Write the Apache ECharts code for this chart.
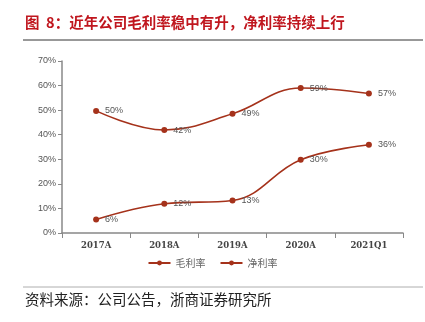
<!DOCTYPE html>
<html><head><meta charset="utf-8">
<script src="https://cdn.jsdelivr.net/npm/echarts@6/dist/echarts.min.js"></script>
<style>html,body{margin:0;padding:0;background:#fff}#c{width:425px;height:322px}</style>
</head><body><div id="c"></div>
<script>
const categories = ['2017A','2018A','2019A','2020A','2021Q1'];
const grossMargin = [49.7, 41.9, 48.5, 59.0, 56.8];
const netMargin = [5.5, 11.9, 13.2, 29.8, 35.9];
const seriesNames = ['毛利率','净利率'];
const titleText = '图  8：近年公司毛利率稳中有升，净利率持续上行';
const sourceText = '资料来源：公司公告，浙商证券研究所';

const chart = echarts.init(document.getElementById('c'));
const lineColor = '#A5321B';
function mkSeries(name, data){
  return {
    name, type:'line', data, smooth:0.4, symbol:'circle', symbolSize:6,
    itemStyle:{color:lineColor}, lineStyle:{color:lineColor,width:1.6},
    label:{show:true, position:'right', distance:6, color:'#555', fontSize:9,
      fontFamily:'Liberation Sans', formatter:p=>Math.round(p.value)+'%'}
  };
}
chart.setOption({
  animation:false,
  graphic:[
    {type:'text', left:25, top:15, style:{text:titleText, fill:'#C0161E', font:'bold 14.5px "Noto Sans CJK SC"'}},
    {type:'line', shape:{x1:23,y1:40,x2:423,y2:40}, style:{stroke:'#333',lineWidth:1}},
    {type:'line', shape:{x1:23,y1:287,x2:423,y2:287}, style:{stroke:'#999',lineWidth:0.8}},
    {type:'text', left:25, top:292, style:{text:sourceText, fill:'#222', font:'14.5px "Noto Sans CJK SC"'}}
  ],
  grid:{left:62, right:22, top:61, bottom:89},
  legend:{data:seriesNames, bottom:49, left:'center', itemWidth:22, itemHeight:6, itemGap:14,
    textStyle:{color:'#666', fontSize:10, fontFamily:'Noto Sans CJK SC'}},
  xAxis:{type:'category', data:categories, boundaryGap:true,
    axisLine:{lineStyle:{color:'#888', width:1.5}}, axisTick:{show:true, lineStyle:{color:'#888'}},
    axisLabel:{color:'#444', fontSize:8.5, fontWeight:'bold', fontFamily:'DejaVu Serif', margin:8}},
  yAxis:{type:'value', min:0, max:70, interval:10,
    axisLine:{show:true, lineStyle:{color:'#888', width:1.5}}, axisTick:{show:true, length:4, lineStyle:{color:'#888'}},
    splitLine:{show:false},
    axisLabel:{color:'#555', fontSize:9, fontFamily:'Liberation Sans', formatter:'{value}%', margin:6}},
  series:[mkSeries(seriesNames[0], grossMargin), mkSeries(seriesNames[1], netMargin)]
});
</script></body></html>
